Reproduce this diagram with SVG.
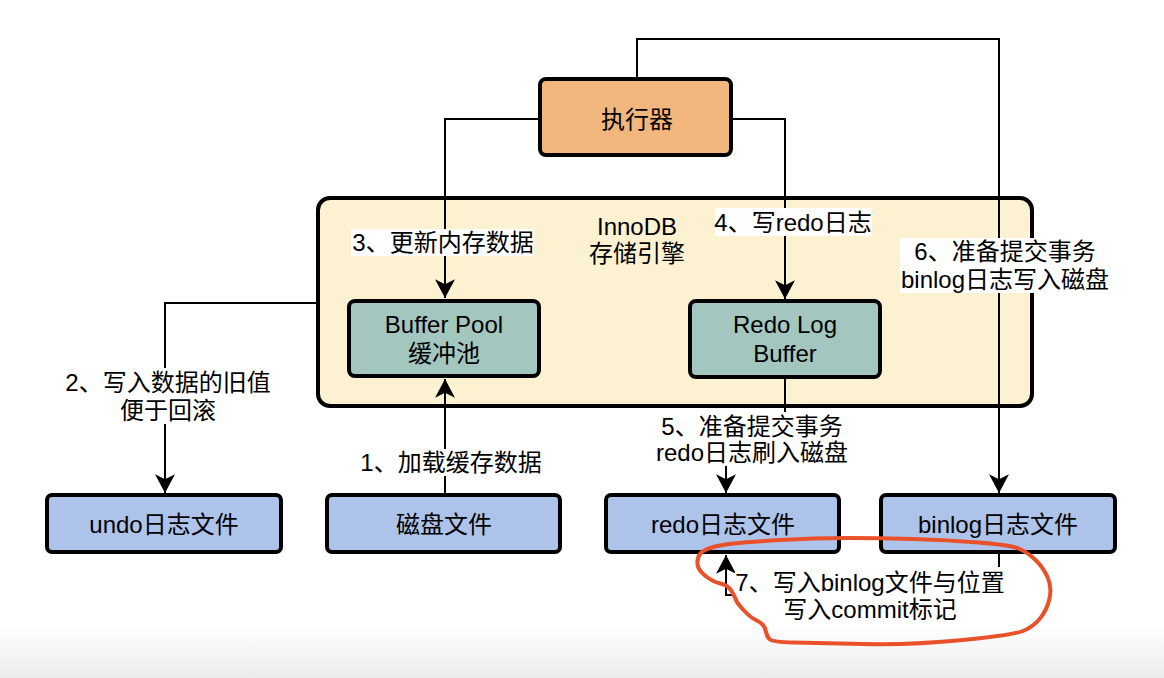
<svg xmlns="http://www.w3.org/2000/svg" width="1164" height="678" viewBox="0 0 1164 678">
<defs>
<linearGradient id="bg" x1="0" y1="0" x2="0" y2="1">
<stop offset="0" stop-color="#ffffff"/>
<stop offset="1" stop-color="#ececec"/>
</linearGradient>
<marker id="arr" markerUnits="userSpaceOnUse" markerWidth="20" markerHeight="20" viewBox="0 0 16 16" refX="15" refY="8" orient="auto" overflow="visible">
<path d="M0,0 L15,8 L0,16 L4,8 z" fill="#000"/>
</marker>
<style>
text{font-family:"Liberation Sans","Noto Sans CJK SC",sans-serif;font-size:24px;fill:#000;text-anchor:middle}
.box{stroke:#000;stroke-width:4}
.exec{fill:#F2B77C}
.inno{fill:#FCF1D0}
.mem{fill:#A3C6BE}
.file{fill:#AEC3E9}
.ln{fill:none;stroke:#000;stroke-width:2}
.lbg{fill:#fff}
</style>
</defs>
<rect x="0" y="0" width="1164" height="678" fill="#fff"/>
<rect x="0" y="625" width="1164" height="53" fill="url(#bg)"/>

<g id="innodb">
<rect class="box inno" x="318" y="198" width="714" height="208" rx="12"/>
<text x="637" y="235">InnoDB</text>
<text x="637" y="262">存储引擎</text>
</g>
<g id="executor">
<rect class="box exec" x="540" y="79" width="191" height="76" rx="6"/>
<text x="637" y="128">执行器</text>
</g>
<g id="buffer-pool">
<rect class="box mem" x="349" y="301" width="190" height="75" rx="6"/>
<text x="444" y="333">Buffer Pool</text>
<text x="444" y="362">缓冲池</text>
</g>
<g id="redo-log-buffer">
<rect class="box mem" x="690" y="301" width="190" height="76" rx="6"/>
<text x="785" y="333">Redo Log</text>
<text x="785" y="362">Buffer</text>
</g>
<g id="undo-file">
<rect class="box file" x="47" y="495" width="234" height="57" rx="5"/>
<text x="164" y="533">undo日志文件</text>
</g>
<g id="disk-file">
<rect class="box file" x="327" y="495" width="233" height="57" rx="5"/>
<text x="444" y="533">磁盘文件</text>
</g>
<g id="redo-file">
<rect class="box file" x="606" y="495" width="233" height="57" rx="5"/>
<text x="723" y="533">redo日志文件</text>
</g>
<g id="binlog-file">
<rect class="box file" x="881" y="495" width="234" height="57" rx="5"/>
<text x="998" y="533">binlog日志文件</text>
</g>

<g id="connectors">
<path class="ln" d="M538,119 L445,119 L445,298" marker-end="url(#arr)"/>
<path class="ln" d="M733,119 L785,119 L785,299" marker-end="url(#arr)"/>
<path class="ln" d="M637,77 L637,39 L999,39 L999,493" marker-end="url(#arr)"/>
<path class="ln" d="M316,303 L165,303 L165,493" marker-end="url(#arr)"/>
<path class="ln" d="M445,493 L445,379" marker-end="url(#arr)"/>
<path class="ln" d="M785,379 L785,440 L726,440 L726,493" marker-end="url(#arr)"/>
<path class="ln" d="M999,554 L999,595 L726,595 L726,555" marker-end="url(#arr)"/>

<rect class="lbg" x="351" y="229" width="183" height="27"/>
<text x="443" y="251">3、更新内存数据</text>
<rect class="lbg" x="715" y="208" width="157" height="28"/>
<text x="793" y="231">4、写redo日志</text>
<rect class="lbg" x="900" y="238" width="209" height="55"/>
<text x="1005" y="260">6、准备提交事务</text>
<text x="1005" y="288">binlog日志写入磁盘</text>
<rect class="lbg" x="64" y="368" width="208" height="56"/>
<text x="168" y="391">2、写入数据的旧值</text>
<text x="168" y="419">便于回滚</text>
<rect class="lbg" x="359" y="449" width="184" height="27"/>
<text x="451" y="471">1、加载缓存数据</text>
<rect class="lbg" x="655" y="412" width="194" height="54"/>
<text x="752" y="435">5、准备提交事务</text>
<text x="752" y="461">redo日志刷入磁盘</text>
<rect class="lbg" x="735" y="567" width="271" height="56"/>
<text x="870" y="591">7、写入binlog文件与位置</text>
<text x="870" y="618">写入commit标记</text>
</g>

<g id="highlight">
<path fill="none" stroke="#E8512A" stroke-width="4" stroke-linecap="round" stroke-linejoin="round" d="M697.5,564 Q698,570 705.5,576 Q713,582 720.5,583.5 Q728,585 731.5,591 Q735,597 736,600 Q737,603 743.5,610 Q750,617 755,619.5 Q760,622 762.5,624.5 Q765,627 766,632 Q767,637 770,639.5 Q773,642 793,642.5 Q813,643 863,644 Q913,645 963,640 Q1013,635 1023,631 Q1033,627 1040,618.5 Q1047,610 1049.5,598.5 Q1052,587 1047.5,577 Q1043,567 1035,559.5 Q1027,552 1018.5,548.5 Q1010,545 978.5,542.5 Q947,540 913.5,539 Q880,538 846.5,538 Q813,538 780,540 Q747,542 733.5,543.5 Q720,545 711.5,547.5 Q703,550 700,554 Q697,558 697.5,564 Z"/>
</g>
</svg>
